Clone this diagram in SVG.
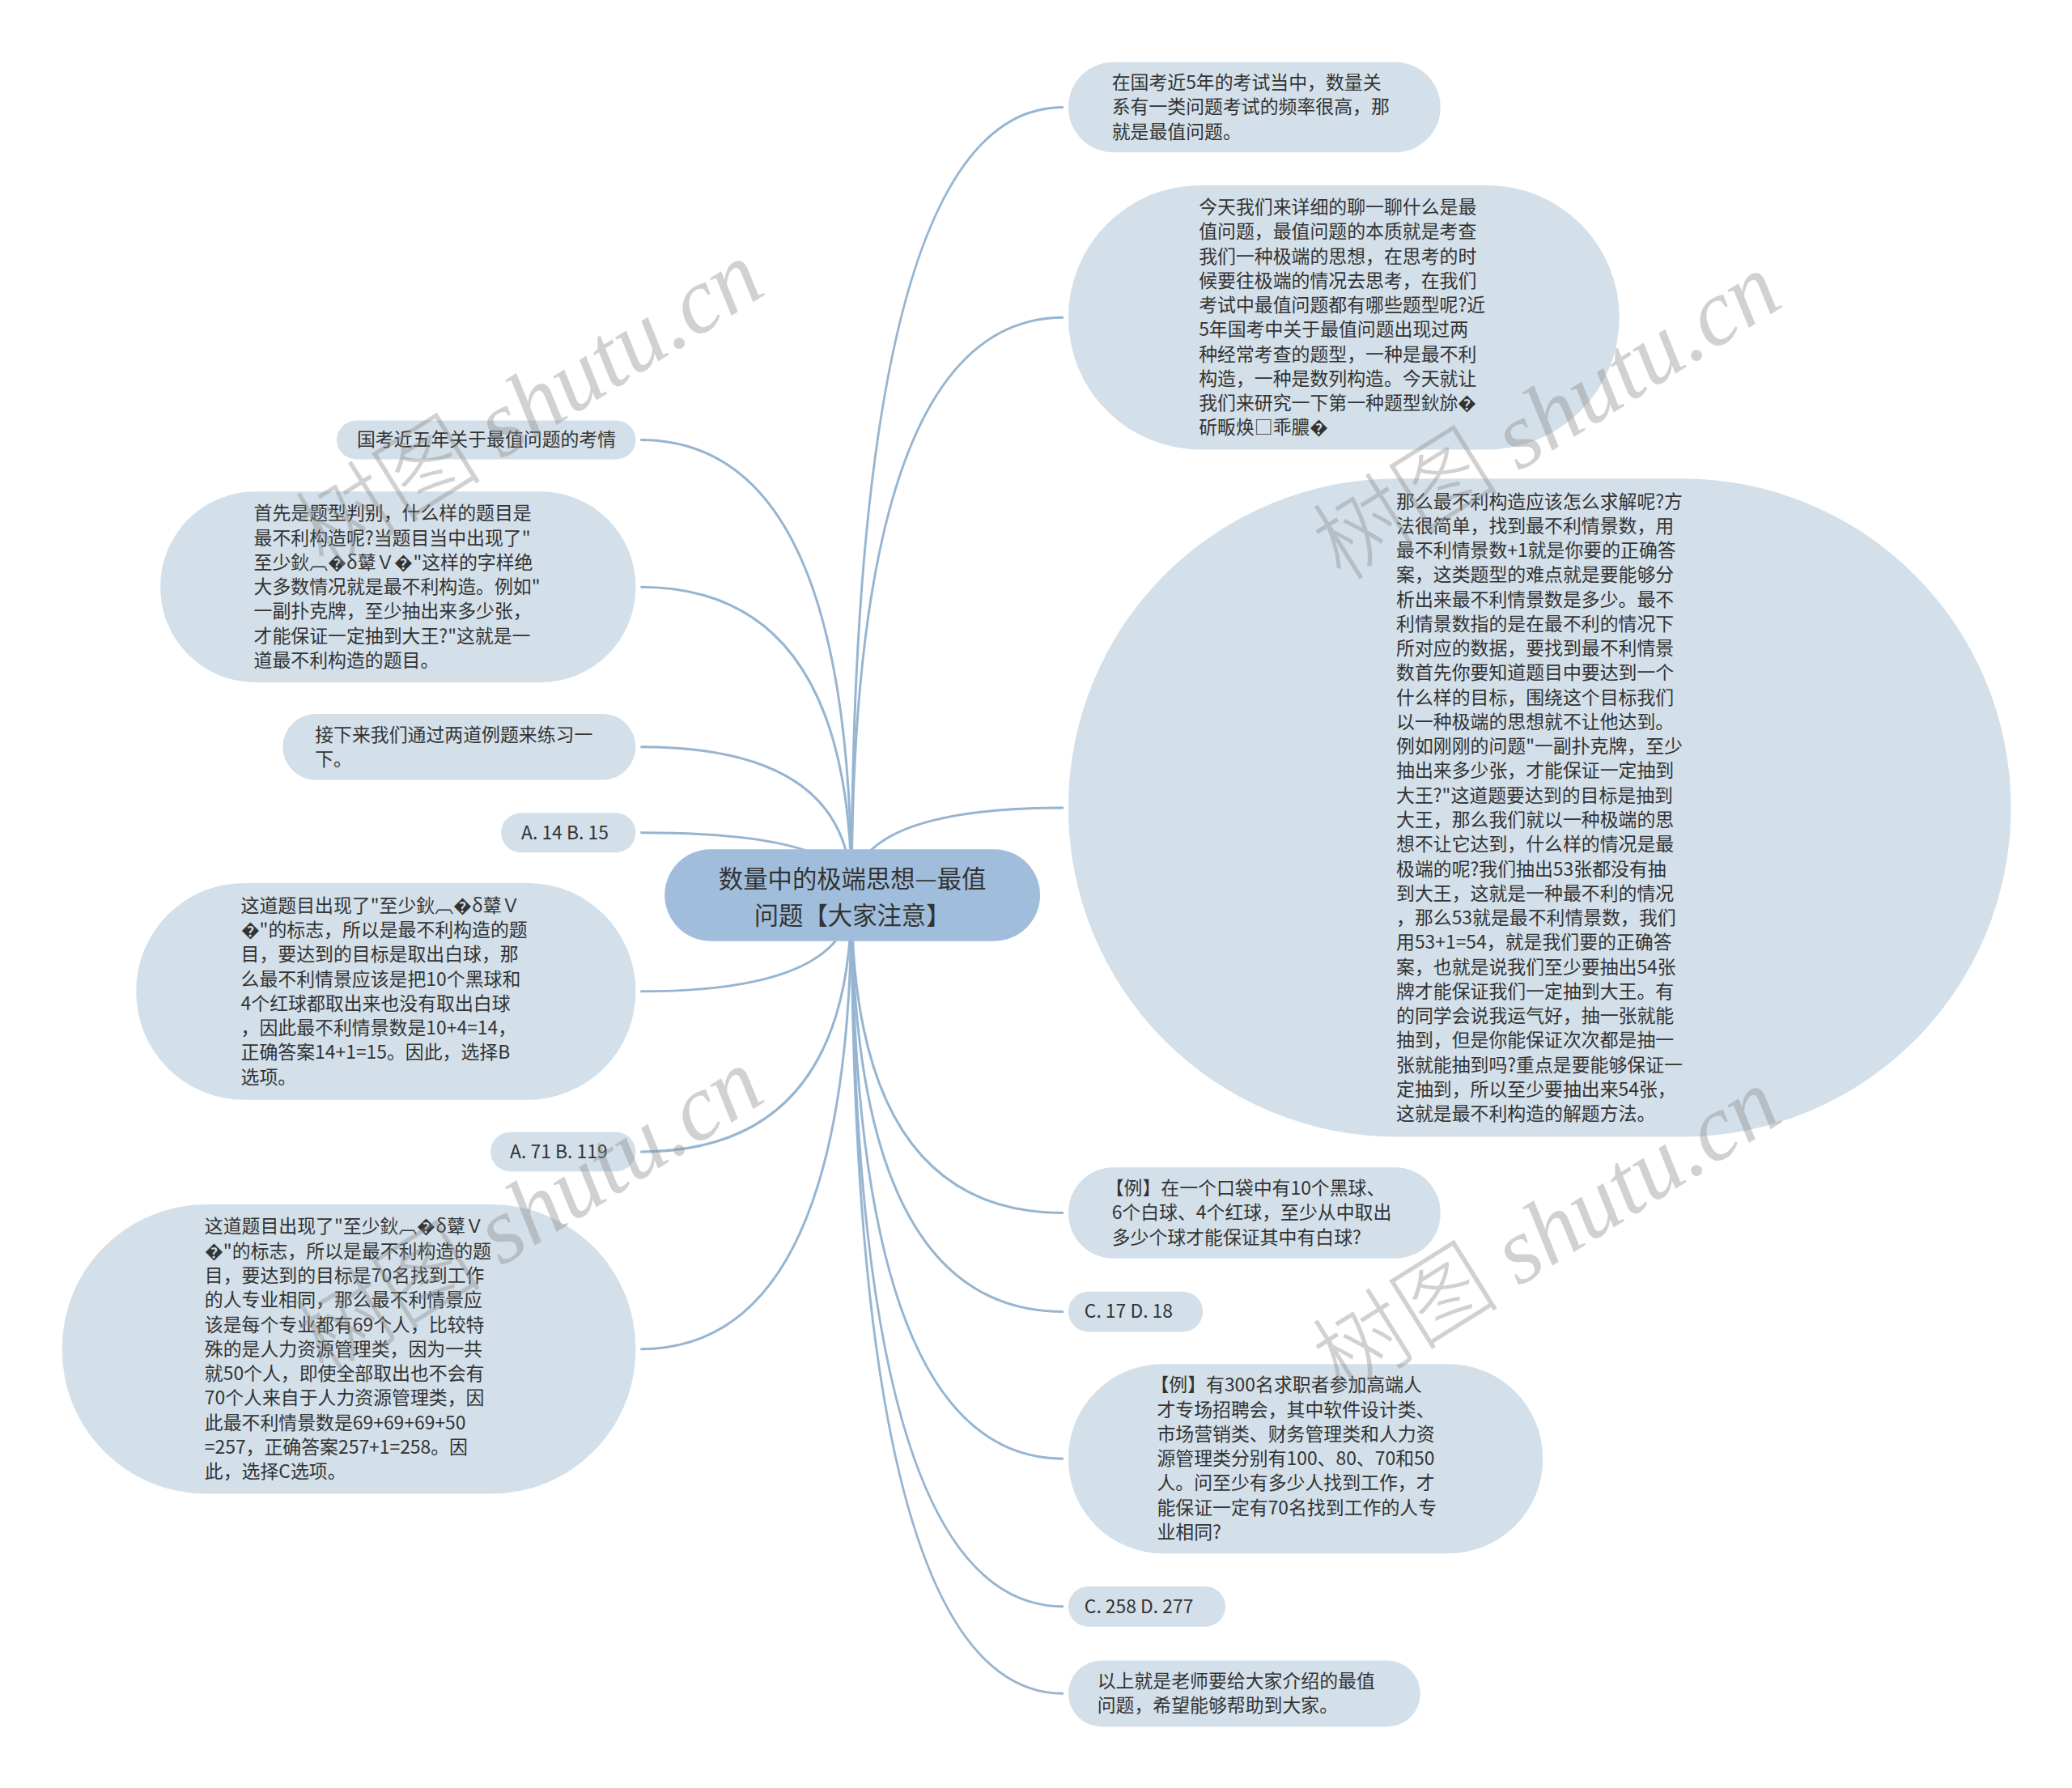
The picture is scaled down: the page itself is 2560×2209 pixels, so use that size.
<svg xmlns="http://www.w3.org/2000/svg" width="2560" height="2209" viewBox="0 0 2560 2209">
<style>
.bg{fill:#ffffff}
.n rect{fill:#d3e0ea}
.c rect{fill:#a0bedb}
.t{font-family:"Noto Sans CJK SC","Liberation Sans",sans-serif;font-size:23px;fill:#333333}
.ct{font-family:"Noto Sans CJK SC","Liberation Sans",sans-serif;font-size:30.5px;fill:#333333;text-anchor:middle}
#connectors path{fill:none;stroke:#96b5d1;stroke-width:3}
.wm{font-size:116px;fill:#8c8c8c;fill-opacity:0.4;text-anchor:middle}
.wm1{font-family:"Noto Sans CJK SC",sans-serif;font-weight:300}
.wm2{font-family:"Liberation Serif",serif;font-style:italic}
</style>
<rect class="bg" x="0" y="0" width="2560" height="2209"/>
<g id="diagram" transform="scale(0.9954)">
<g id="connectors">
<path d="M1057 1111 Q1057 546 795 546"/>
<path d="M1057 1111 Q1057 728.5 795 728.5"/>
<path d="M1057 1111 Q1057 927 795 927"/>
<path d="M1057 1111 Q1057 1033.5 795 1033.5"/>
<path d="M1057 1111 Q1057 1230.5 795 1230.5"/>
<path d="M1057 1111 Q1057 1429.5 795 1429.5"/>
<path d="M1057 1111 Q1057 1674.5 795 1674.5"/>
<path d="M1057 1111 Q1057 133 1320 133"/>
<path d="M1057 1111 Q1057 394 1320 394"/>
<path d="M1057 1111 Q1057 1002.5 1320 1002.5"/>
<path d="M1057 1111 Q1057 1505.5 1320 1505.5"/>
<path d="M1057 1111 Q1057 1628 1320 1628"/>
<path d="M1057 1111 Q1057 1810.5 1320 1810.5"/>
<path d="M1057 1111 Q1057 1994 1320 1994"/>
<path d="M1057 1111 Q1057 2102 1320 2102"/>
</g>
<g id="center" class="c">
<rect x="825" y="1054" width="466" height="114" rx="57"/>
<text class="ct"><tspan x="1058" y="1102">数量中的极端思想—最值</tspan><tspan x="1058" y="1147">问题【大家注意】</tspan></text>
</g>
<g id="n1" class="n">
<rect x="1326" y="77" width="462" height="112" rx="56"/>
<text class="t"><tspan x="1380" y="110.6">在国考近5年的考试当中，数量关</tspan><tspan x="1380" dy="30.4">系有一类问题考试的频率很高，那</tspan><tspan x="1380" dy="30.4">就是最值问题。</tspan></text>
</g>
<g id="n2" class="n">
<rect x="1326" y="230" width="684" height="328" rx="164"/>
<text class="t"><tspan x="1488" y="265.2">今天我们来详细的聊一聊什么是最</tspan><tspan x="1488" dy="30.4">值问题，最值问题的本质就是考查</tspan><tspan x="1488" dy="30.4">我们一种极端的思想，在思考的时</tspan><tspan x="1488" dy="30.4">候要往极端的情况去思考，在我们</tspan><tspan x="1488" dy="30.4">考试中最值问题都有哪些题型呢?近</tspan><tspan x="1488" dy="30.4">5年国考中关于最值问题出现过两</tspan><tspan x="1488" dy="30.4">种经常考查的题型，一种是最不利</tspan><tspan x="1488" dy="30.4">构造，一种是数列构造。今天就让</tspan><tspan x="1488" dy="30.4">我们来研究一下第一种题型鈥旀�</tspan><tspan x="1488" dy="30.4">斫畈焕□乖膿�</tspan></text>
</g>
<g id="n3" class="n">
<rect x="1326" y="594" width="1170" height="817" rx="408"/>
<text class="t"><tspan x="1733" y="630.5">那么最不利构造应该怎么求解呢?方</tspan><tspan x="1733" dy="30.4">法很简单，找到最不利情景数，用</tspan><tspan x="1733" dy="30.4">最不利情景数+1就是你要的正确答</tspan><tspan x="1733" dy="30.4">案，这类题型的难点就是要能够分</tspan><tspan x="1733" dy="30.4">析出来最不利情景数是多少。最不</tspan><tspan x="1733" dy="30.4">利情景数指的是在最不利的情况下</tspan><tspan x="1733" dy="30.4">所对应的数据，要找到最不利情景</tspan><tspan x="1733" dy="30.4">数首先你要知道题目中要达到一个</tspan><tspan x="1733" dy="30.4">什么样的目标，围绕这个目标我们</tspan><tspan x="1733" dy="30.4">以一种极端的思想就不让他达到。</tspan><tspan x="1733" dy="30.4">例如刚刚的问题"一副扑克牌，至少</tspan><tspan x="1733" dy="30.4">抽出来多少张，才能保证一定抽到</tspan><tspan x="1733" dy="30.4">大王?"这道题要达到的目标是抽到</tspan><tspan x="1733" dy="30.4">大王，那么我们就以一种极端的思</tspan><tspan x="1733" dy="30.4">想不让它达到，什么样的情况是最</tspan><tspan x="1733" dy="30.4">极端的呢?我们抽出53张都没有抽</tspan><tspan x="1733" dy="30.4">到大王，这就是一种最不利的情况</tspan><tspan x="1733" dy="30.4">，那么53就是最不利情景数，我们</tspan><tspan x="1733" dy="30.4">用53+1=54，就是我们要的正确答</tspan><tspan x="1733" dy="30.4">案，也就是说我们至少要抽出54张</tspan><tspan x="1733" dy="30.4">牌才能保证我们一定抽到大王。有</tspan><tspan x="1733" dy="30.4">的同学会说我运气好，抽一张就能</tspan><tspan x="1733" dy="30.4">抽到，但是你能保证次次都是抽一</tspan><tspan x="1733" dy="30.4">张就能抽到吗?重点是要能够保证一</tspan><tspan x="1733" dy="30.4">定抽到，所以至少要抽出来54张，</tspan><tspan x="1733" dy="30.4">这就是最不利构造的解题方法。</tspan></text>
</g>
<g id="n4" class="n">
<rect x="1326" y="1449" width="462" height="113" rx="56"/>
<text class="t"><tspan x="1372" y="1483">【例】在一个口袋中有10个黑球、</tspan><tspan x="1380" dy="30.4">6个白球、4个红球，至少从中取出</tspan><tspan x="1380" dy="30.4">多少个球才能保证其中有白球?</tspan></text>
</g>
<g id="n5" class="n">
<rect x="1326" y="1603" width="167" height="50" rx="25"/>
<text class="t" x="1346" y="1636">C. 17 D. 18</text>
</g>
<g id="n6" class="n">
<rect x="1326" y="1693" width="589" height="235" rx="117"/>
<text class="t"><tspan x="1428" y="1727.3">【例】有300名求职者参加高端人</tspan><tspan x="1436" dy="30.4">才专场招聘会，其中软件设计类、</tspan><tspan x="1436" dy="30.4">市场营销类、财务管理类和人力资</tspan><tspan x="1436" dy="30.4">源管理类分别有100、80、70和50</tspan><tspan x="1436" dy="30.4">人。问至少有多少人找到工作，才</tspan><tspan x="1436" dy="30.4">能保证一定有70名找到工作的人专</tspan><tspan x="1436" dy="30.4">业相同?</tspan></text>
</g>
<g id="n7" class="n">
<rect x="1326" y="1969" width="195" height="50" rx="25"/>
<text class="t" x="1346" y="2002">C. 258 D. 277</text>
</g>
<g id="n8" class="n">
<rect x="1326" y="2061" width="437" height="82" rx="41"/>
<text class="t"><tspan x="1362" y="2094.8">以上就是老师要给大家介绍的最值</tspan><tspan x="1362" dy="30.4">问题，希望能够帮助到大家。</tspan></text>
</g>
<g id="l1" class="n">
<rect x="418" y="522" width="371" height="48" rx="24"/>
<text class="t" x="443" y="554">国考近五年关于最值问题的考情</text>
</g>
<g id="l2" class="n">
<rect x="199" y="610" width="590" height="237" rx="118"/>
<text class="t"><tspan x="315" y="645.3">首先是题型判别，什么样的题目是</tspan><tspan x="315" dy="30.4">最不利构造呢?当题目当中出现了"</tspan><tspan x="315" dy="30.4">至少鈥︹�δ鼙Ｖ�"这样的字样绝</tspan><tspan x="315" dy="30.4">大多数情况就是最不利构造。例如"</tspan><tspan x="315" dy="30.4">一副扑克牌，至少抽出来多少张，</tspan><tspan x="315" dy="30.4">才能保证一定抽到大王?"这就是一</tspan><tspan x="315" dy="30.4">道最不利构造的题目。</tspan></text>
</g>
<g id="l3" class="n">
<rect x="351" y="886" width="438" height="82" rx="41"/>
<text class="t"><tspan x="391" y="919.8">接下来我们通过两道例题来练习一</tspan><tspan x="391" dy="30.4">下。</tspan></text>
</g>
<g id="l4" class="n">
<rect x="622" y="1009" width="167" height="49" rx="24.5"/>
<text class="t" x="647" y="1041.5">A. 14 B. 15</text>
</g>
<g id="l5" class="n">
<rect x="169" y="1096" width="620" height="269" rx="134"/>
<text class="t"><tspan x="299" y="1132.1">这道题目出现了"至少鈥︹�δ鼙Ｖ</tspan><tspan x="299" dy="30.4">�"的标志，所以是最不利构造的题</tspan><tspan x="299" dy="30.4">目，要达到的目标是取出白球，那</tspan><tspan x="299" dy="30.4">么最不利情景应该是把10个黑球和</tspan><tspan x="299" dy="30.4">4个红球都取出来也没有取出白球</tspan><tspan x="299" dy="30.4">，因此最不利情景数是10+4=14，</tspan><tspan x="299" dy="30.4">正确答案14+1=15。因此，选择B</tspan><tspan x="299" dy="30.4">选项。</tspan></text>
</g>
<g id="l6" class="n">
<rect x="609" y="1405" width="180" height="49" rx="24.5"/>
<text class="t" x="633" y="1437.5">A. 71 B. 119</text>
</g>
<g id="l7" class="n">
<rect x="77" y="1495" width="712" height="359" rx="179"/>
<text class="t"><tspan x="254" y="1530.5">这道题目出现了"至少鈥︹�δ鼙Ｖ</tspan><tspan x="254" dy="30.4">�"的标志，所以是最不利构造的题</tspan><tspan x="254" dy="30.4">目，要达到的目标是70名找到工作</tspan><tspan x="254" dy="30.4">的人专业相同，那么最不利情景应</tspan><tspan x="254" dy="30.4">该是每个专业都有69个人，比较特</tspan><tspan x="254" dy="30.4">殊的是人力资源管理类，因为一共</tspan><tspan x="254" dy="30.4">就50个人，即使全部取出也不会有</tspan><tspan x="254" dy="30.4">70个人来自于人力资源管理类，因</tspan><tspan x="254" dy="30.4">此最不利情景数是69+69+69+50</tspan><tspan x="254" dy="30.4">=257，正确答案257+1=258。因</tspan><tspan x="254" dy="30.4">此，选择C选项。</tspan></text>
</g>
</g>
<g id="watermarks">
<text class="wm" transform="translate(675 533) rotate(-32)"><tspan class="wm1">树图 </tspan><tspan class="wm2">shutu.cn</tspan></text>
<text class="wm" transform="translate(1932 548) rotate(-32)"><tspan class="wm1">树图 </tspan><tspan class="wm2">shutu.cn</tspan></text>
<text class="wm" transform="translate(675 1530) rotate(-32)"><tspan class="wm1">树图 </tspan><tspan class="wm2">shutu.cn</tspan></text>
<text class="wm" transform="translate(1932 1555) rotate(-32)"><tspan class="wm1">树图 </tspan><tspan class="wm2">shutu.cn</tspan></text>
</g>
</svg>
